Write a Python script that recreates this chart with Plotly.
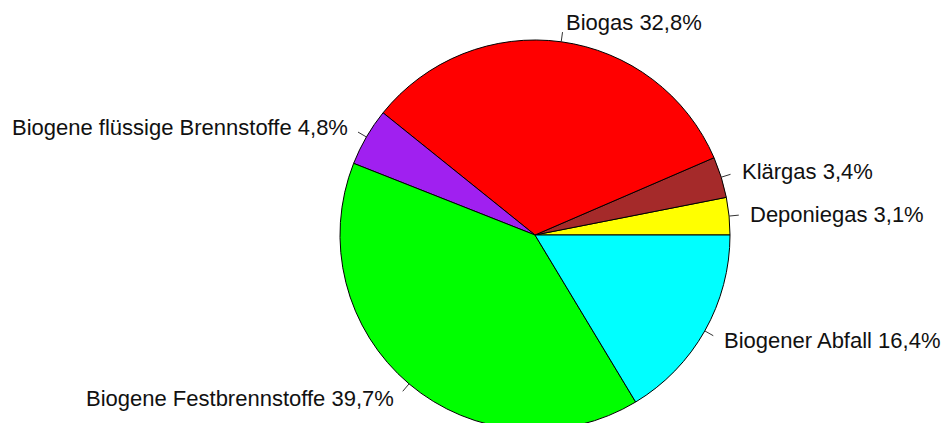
import math
import plotly.graph_objects as go

labels = ["Deponiegas", "Klärgas", "Biogas", "Biogene flüssige Brennstoffe",
          "Biogene Festbrennstoffe", "Biogener Abfall"]
values = [3.1, 3.4, 32.8, 4.8, 39.7, 16.4]
value_text = ["3,1%", "3,4%", "32,8%", "4,8%", "39,7%", "16,4%"]
colors = ["#FFFF00", "#A52A2A", "#FF0000", "#A020F0", "#00FF00", "#00FFFF"]

W, H = 941, 470
cx, cy, R = 535, 235, 195  # pie centre and radius in pixels

total = sum(values)
# plotly's counterclockwise pies end the first slice at `rotation`; start it at 3 o'clock
rotation = 90 - values[0] / total * 360

fig = go.Figure(go.Pie(
    labels=labels, values=values, sort=False, direction="counterclockwise",
    rotation=rotation, textinfo="none", hoverinfo="label+percent",
    marker=dict(colors=colors, line=dict(color="#000000", width=1)),
    domain=dict(x=[(cx - R) / W, (cx + R) / W], y=[1 - (cy + R) / H, 1 - (cy - R) / H]),
    showlegend=False,
))

cum = 0.0
shapes, annotations = [], []
for lab, v, vt in zip(labels, values, value_text):
    mid = (cum + v / 2) / total * 2 * math.pi
    cum += v
    c, s = math.cos(mid), math.sin(mid)
    x0, y0 = cx + R * c, cy - R * s
    x1, y1 = cx + 1.05 * R * c, cy - 1.05 * R * s
    xt, yt = cx + 1.1 * R * c, cy - 1.1 * R * s
    shapes.append(dict(type="line", xref="paper", yref="paper",
                       x0=x0 / W, y0=1 - y0 / H, x1=x1 / W, y1=1 - y1 / H,
                       line=dict(color="#333333", width=1)))
    annotations.append(dict(xref="paper", yref="paper", x=xt / W, y=1 - yt / H,
                            text=f"{lab} {vt}", showarrow=False,
                            xanchor="left" if c > 0 else "right", yanchor="middle",
                            font=dict(family="Liberation Sans, Arial", size=22, color="#111111")))

fig.update_layout(width=W, height=H, margin=dict(l=0, r=0, t=0, b=0),
                  paper_bgcolor="white", plot_bgcolor="white",
                  shapes=shapes, annotations=annotations)

fig.write_html("out.html", config={"displayModeBar": False}, post_script=(
    "document.body.style.margin='0';document.body.style.overflow='hidden';"
    "document.documentElement.style.overflow='hidden';"))
